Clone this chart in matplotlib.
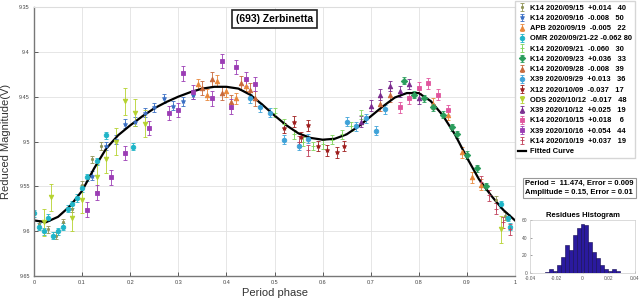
import matplotlib.pyplot as plt
import numpy as np

plt.rcParams['font.family'] = ['Liberation Sans', 'DejaVu Sans']

# fitted curve
curve_ph = [0.000, 0.025, 0.050, 0.075, 0.100, 0.125, 0.150, 0.175, 0.200, 0.225,
            0.250, 0.275, 0.300, 0.325, 0.350, 0.375, 0.400, 0.425, 0.450, 0.475,
            0.500, 0.525, 0.550, 0.575, 0.600, 0.625, 0.650, 0.675, 0.700, 0.725,
            0.750, 0.775, 0.800, 0.825, 0.850, 0.875, 0.900, 0.925, 0.950, 0.975, 1.000]
curve_mag = [9.588, 9.590, 9.584, 9.572, 9.555, 9.530, 9.508, 9.493, 9.482, 9.472,
             9.463, 9.456, 9.450, 9.445, 9.441, 9.439, 9.439, 9.441, 9.448, 9.459,
             9.471, 9.482, 9.491, 9.496, 9.498, 9.497, 9.492, 9.483, 9.472, 9.461,
             9.451, 9.446, 9.446, 9.455, 9.471, 9.492, 9.518, 9.542, 9.560, 9.576, 9.588]

# sessions
labels = ["K14 2020/09/15  +0.014   40", "K14 2020/09/16  -0.008   50",
          "APB 2020/09/19  -0.005   22", "OMR 2020/09/21-22 -0.062 80",
          "K14 2020/09/21  -0.060   30", "K14 2020/09/23  +0.036   33",
          "K14 2020/09/28  -0.008   39", "X39 2020/09/29  +0.013   36",
          "X12 2020/10/09  -0.037   17", "ODS 2020/10/12  -0.017   48",
          "X39 2020/10/12  +0.025   19", "K14 2020/10/15  +0.018    6",
          "X39 2020/10/16  +0.054   44", "K14 2020/10/19  +0.037   19"]
colors = ['#8f9355', '#3a6fc4', '#e8873a', '#1fb5c8', '#7ed35a', '#2a9d5c', '#c8683a',
          '#3fa2d8', '#9e1c1c', '#b5d22e', '#7a2b8f', '#e0559e', '#9b3db5', '#c0405a']
markers = ['.', '*', '^', 'o', '+', 'D', '^', 'o', '*', 'v', '^', 's', 's', '+']

ph1 = [0.01, 0.03, 0.045, 0.06, 0.08, 0.10, 0.12, 0.14, 0.96, 0.98]
mag1 = [9.592, 9.598, 9.605, 9.590, 9.575, 9.548, 9.520, 9.505, 9.565, 9.583]
ph2 = [0.12, 0.15, 0.17, 0.19, 0.21, 0.23, 0.25, 0.27, 0.29, 0.31, 0.33]
mag2 = [9.538, 9.505, 9.498, 9.480, 9.478, 9.468, 9.462, 9.452, 9.460, 9.455, 9.448]
ph3 = [0.34, 0.36, 0.38, 0.40, 0.42, 0.44, 0.83, 0.86, 0.89, 0.91, 0.93]
mag3 = [9.436, 9.448, 9.432, 9.444, 9.452, 9.438, 9.458, 9.470, 9.512, 9.540, 9.548]
ph4 = [0.0, 0.01, 0.02, 0.03, 0.04, 0.05, 0.06, 0.07, 0.08, 0.09, 0.10, 0.11, 0.13,
       0.15, 0.205, 0.97, 0.985, 0.99]
mag4 = [9.580, 9.595, 9.600, 9.585, 9.605, 9.600, 9.595, 9.575, 9.570, 9.563, 9.552,
        9.540, 9.522, 9.493, 9.506, 9.570, 9.585, 9.595]
ph5 = [0.50, 0.52, 0.54, 0.56, 0.58, 0.60, 0.62, 0.64, 0.66, 0.68]
mag5 = [9.468, 9.480, 9.492, 9.500, 9.505, 9.503, 9.498, 9.492, 9.483, 9.470]
ph6 = [0.77, 0.79, 0.81, 0.83, 0.85, 0.87, 0.88, 0.90, 0.92, 0.94]
mag6 = [9.432, 9.448, 9.452, 9.462, 9.470, 9.484, 9.492, 9.515, 9.530, 9.550]
ph7 = [0.35, 0.37, 0.39, 0.41, 0.43, 0.45, 0.46, 0.72, 0.74]
mag7 = [9.440, 9.430, 9.446, 9.456, 9.435, 9.443, 9.452, 9.458, 9.448]
ph8 = [0.45, 0.47, 0.49, 0.52, 0.55, 0.57, 0.65, 0.67, 0.69, 0.71, 0.73]
mag8 = [9.452, 9.462, 9.468, 9.498, 9.505, 9.497, 9.478, 9.483, 9.474, 9.488, 9.464]
ph9 = [0.52, 0.54, 0.555, 0.57, 0.59, 0.61, 0.63, 0.645]
mag9 = [9.485, 9.478, 9.495, 9.482, 9.505, 9.510, 9.512, 9.505]
ph10 = [0.02, 0.035, 0.08, 0.10, 0.13, 0.15, 0.17, 0.19, 0.21, 0.23, 0.97]
mag10 = [9.590, 9.562, 9.585, 9.565, 9.540, 9.520, 9.500, 9.455, 9.468, 9.480, 9.598]
ph11 = [0.68, 0.70, 0.72, 0.74, 0.76, 0.78, 0.80]
mag11 = [9.478, 9.460, 9.448, 9.438, 9.444, 9.436, 9.452]
ph12 = [0.76, 0.78, 0.80, 0.82, 0.84, 0.86]
mag12 = [9.462, 9.452, 9.440, 9.435, 9.448, 9.465]
ph13 = [0.11, 0.13, 0.16, 0.19, 0.24, 0.28, 0.30, 0.31, 0.33, 0.37, 0.39, 0.41, 0.42,
        0.44, 0.46]
mag13 = [9.576, 9.557, 9.540, 9.513, 9.485, 9.468, 9.465, 9.424, 9.445, 9.452, 9.410,
         9.461, 9.417, 9.430, 9.436]
ph14 = [0.93, 0.945, 0.96, 0.975, 0.99, 0.55, 0.57]
mag14 = [9.545, 9.560, 9.575, 9.590, 9.598, 9.500, 9.510]
errs = [0.004, 0.005, 0.006, 0.004, 0.005, 0.004, 0.008, 0.005, 0.006, 0.015,
        0.006, 0.006, 0.008, 0.006]

phases = [ph1, ph2, ph3, ph4, ph5, ph6, ph7, ph8, ph9, ph10, ph11, ph12, ph13, ph14]
mags = [mag1, mag2, mag3, mag4, mag5, mag6, mag7, mag8, mag9, mag10, mag11, mag12, mag13, mag14]

# residues histogram
hist_edges = [-0.0285, -0.0255, -0.0225, -0.0195, -0.0165, -0.0135, -0.0105, -0.0075,
              -0.0045, -0.0015, 0.0015, 0.0045, 0.0075, 0.0105, 0.0135, 0.0165, 0.0195,
              0.0225, 0.0255, 0.0285]
hist_counts = [1, 5, 2, 9, 18, 32, 26, 43, 51, 56, 54, 35, 24, 17, 9, 4, 2, 5, 2]

fig = plt.figure(figsize=(6.41, 2.99), dpi=100)
ax = fig.add_axes([34/641, 23/299, 481/641, 269/299])

handles = []
for i in range(len(phases)):
    h = ax.errorbar(phases[i], mags[i], yerr=errs[i], fmt=markers[i], color=colors[i],
                    ms=3.3, elinewidth=0.6, capsize=1.2, capthick=0.5, mew=0.6)
    handles.append(h)
line, = ax.plot(curve_ph, curve_mag, color='black', lw=1.6)
handles.append(line)

ax.set_xlim(0, 1)
ax.set_ylim(9.65, 9.35)
ax.set_xticks(np.arange(0, 1.01, 0.1))
ax.set_xticklabels(['0', '0.1', '0.2', '0.3', '0.4', '0.5', '0.6', '0.7', '0.8', '0.9', '1'])
ax.set_yticks([9.35, 9.4, 9.45, 9.5, 9.55, 9.6, 9.65])
ax.set_yticklabels(['9.35', '9.4', '9.45', '9.5', '9.55', '9.6', '9.65'])
ax.tick_params(labelsize=4, direction='in', length=3, width=0.6, colors='#444444', pad=3)
ax.grid(True, color='#e2e2e2', lw=0.6)
ax.set_axisbelow(True)
for s in ['top', 'right']:
    ax.spines[s].set_color('#dddddd')
for s in ['left', 'bottom']:
    ax.spines[s].set_color('#777777')
    ax.spines[s].set_linewidth(1.0)
ax.set_xlabel('Period phase', fontsize=8, color='#333333', labelpad=2)
ax.set_ylabel('Reduced Magnitude(V)', fontsize=8, color='#333333', labelpad=6)

ax.text(0.5, 0.955, '(693) Zerbinetta', transform=ax.transAxes, ha='center', va='center',
        fontsize=7.5, fontweight='bold',
        bbox=dict(boxstyle='square,pad=0.35', fc='white', ec='#222222', lw=1.2))

fig.legend(handles, labels + ['Fitted Curve'], loc='upper left',
           bbox_to_anchor=(515/641, 0.995), prop={'weight': 'bold', 'size': 5.4},
           handlelength=1.0, handletextpad=0.6, labelspacing=0.4, borderpad=0.4,
           frameon=True, fancybox=False, edgecolor='#cccccc', borderaxespad=0)

fig.text(525/641, (299 - 188)/299,
         'Period =  11.474, Error = 0.009\nAmplitude = 0.15, Error = 0.01',
         fontsize=5.5, fontweight='bold', va='center', ha='left', linespacing=1.3,
         bbox=dict(boxstyle='square,pad=0.3', fc='white', ec='#999999', lw=0.8))

hax = fig.add_axes([530/641, 26/299, 105/641, 53/299])
hax.bar(hist_edges[:-1], hist_counts, width=np.diff(hist_edges), align='edge',
        color='#2a1a9e', edgecolor='#120a50', lw=0.4)
hax.set_xlim(-0.04, 0.04)
hax.set_ylim(0, 60)
hax.set_xticks([-0.04, -0.02, 0, 0.02, 0.04])
hax.set_xticklabels(['-0.04', '-0.02', '0', '0.02', '0.04'])
hax.set_yticks([0, 20, 40, 60])
hax.tick_params(labelsize=3.5, direction='in', length=1.5, width=0.4, colors='#555555', pad=2)
for s in hax.spines.values():
    s.set_color('#cccccc')
    s.set_linewidth(0.5)
hax.set_title('Residues Histogram', fontsize=5.5, fontweight='bold', pad=2)

fig.savefig('out.png', dpi=100)
